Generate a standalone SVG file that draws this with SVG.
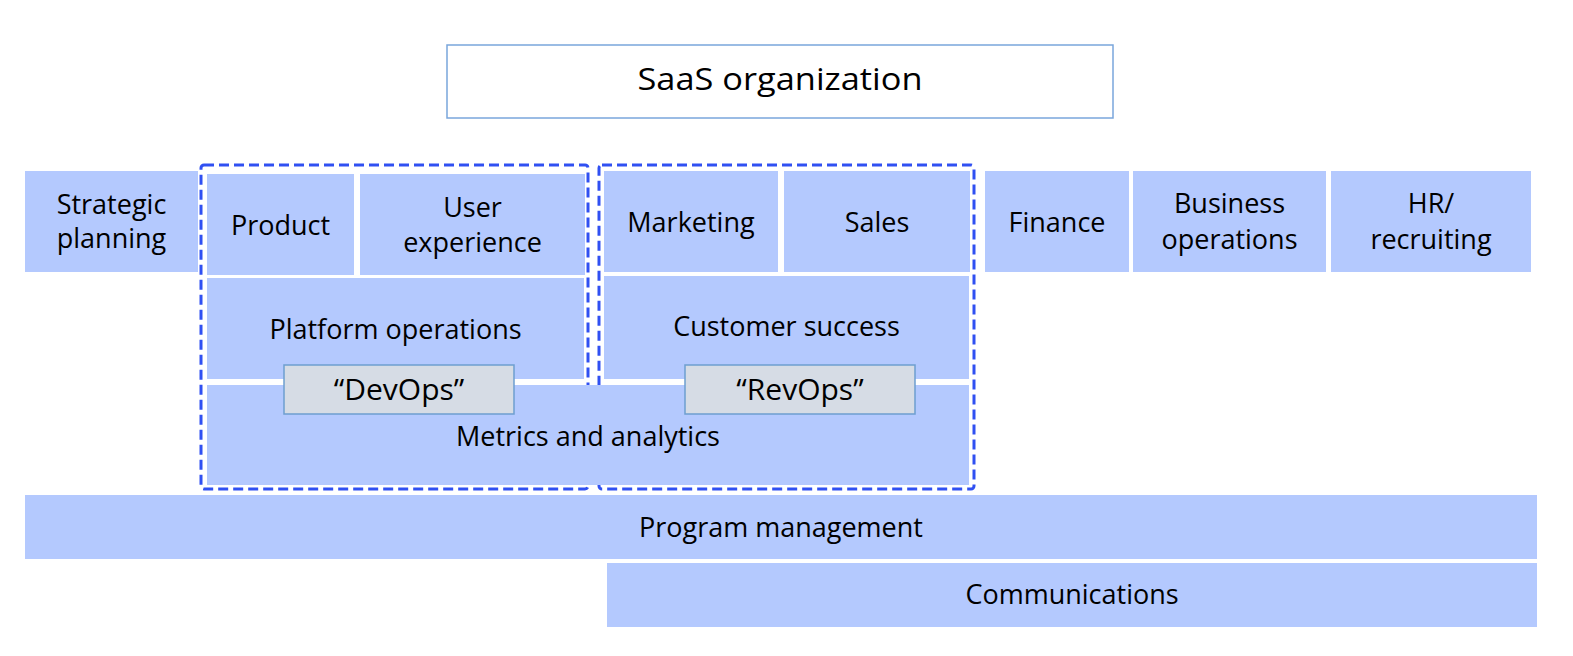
<svg xmlns="http://www.w3.org/2000/svg" width="1573" height="656" viewBox="0 0 1573 656">
<style>
.b{fill:#b4c9fe;}
.t{font-family:"Open Sans","Noto Sans",sans-serif;font-size:27px;fill:#000;text-anchor:middle;}
.q{font-family:"Open Sans","Noto Sans",sans-serif;font-size:30px;fill:#000;text-anchor:middle;}
.lbl{fill:#d6dce5;stroke:#6d9ecf;stroke-width:1.5;}
.dash{fill:none;stroke:#3050f2;stroke-width:3;stroke-dasharray:10 5;}
</style>
<rect width="1573" height="656" fill="#fff"/>
<g id="saas">
<rect x="447" y="45" width="666" height="73" fill="#fff" stroke="#7aa6dc" stroke-width="1.5"/>
<text x="780" y="90" font-family="Open Sans, sans-serif" font-size="30.5" text-anchor="middle" textLength="285" lengthAdjust="spacingAndGlyphs">SaaS organization</text>
</g>
<g id="groups">
<rect class="dash" x="201" y="165" width="387" height="324" rx="3"/>
<rect class="dash" x="599" y="165" width="375" height="324" rx="3"/>
</g>
<g id="strategic"><rect class="b" x="25" y="171" width="173" height="101"/><text class="t" x="111.5" y="214">Strategic</text><text class="t" x="111.5" y="248">planning</text></g>
<g id="product"><rect class="b" x="207" y="174" width="147" height="101"/><text class="t" x="280.5" y="235">Product</text></g>
<g id="ux"><rect class="b" x="360" y="174" width="225" height="101"/><text class="t" x="472.5" y="217">User</text><text class="t" x="472.5" y="252">experience</text></g>
<g id="platform"><rect class="b" x="207" y="278" width="377" height="101"/><text class="t" x="395.5" y="339">Platform operations</text></g>
<g id="marketing"><rect class="b" x="604" y="171" width="174" height="101"/><text class="t" x="691" y="232">Marketing</text></g>
<g id="sales"><rect class="b" x="784" y="171" width="186" height="101"/><text class="t" x="877" y="232">Sales</text></g>
<g id="customer"><rect class="b" x="604" y="276" width="365" height="103"/><text class="t" x="786.5" y="336">Customer success</text></g>
<g id="metrics"><rect class="b" x="207" y="385" width="762" height="100"/><text class="t" x="588" y="446">Metrics and analytics</text></g>
<g id="devops"><rect class="lbl" x="284" y="365" width="230" height="49"/><text class="q" x="399" y="400">“DevOps”</text></g>
<g id="revops"><rect class="lbl" x="685" y="365" width="230" height="49"/><text class="q" x="800" y="400">“RevOps”</text></g>
<g id="finance"><rect class="b" x="985" y="171" width="144" height="101"/><text class="t" x="1057" y="232">Finance</text></g>
<g id="bizops"><rect class="b" x="1133" y="171" width="193" height="101"/><text class="t" x="1229.5" y="213">Business</text><text class="t" x="1229.5" y="249">operations</text></g>
<g id="hr"><rect class="b" x="1331" y="171" width="200" height="101"/><text class="t" x="1431" y="213">HR/</text><text class="t" x="1431" y="249">recruiting</text></g>
<g id="program"><rect class="b" x="25" y="495" width="1512" height="64"/><text class="t" x="781" y="537">Program management</text></g>
<g id="comms"><rect class="b" x="607" y="563" width="930" height="64"/><text class="t" x="1072" y="604">Communications</text></g>
<g id="connectors"></g>
</svg>
